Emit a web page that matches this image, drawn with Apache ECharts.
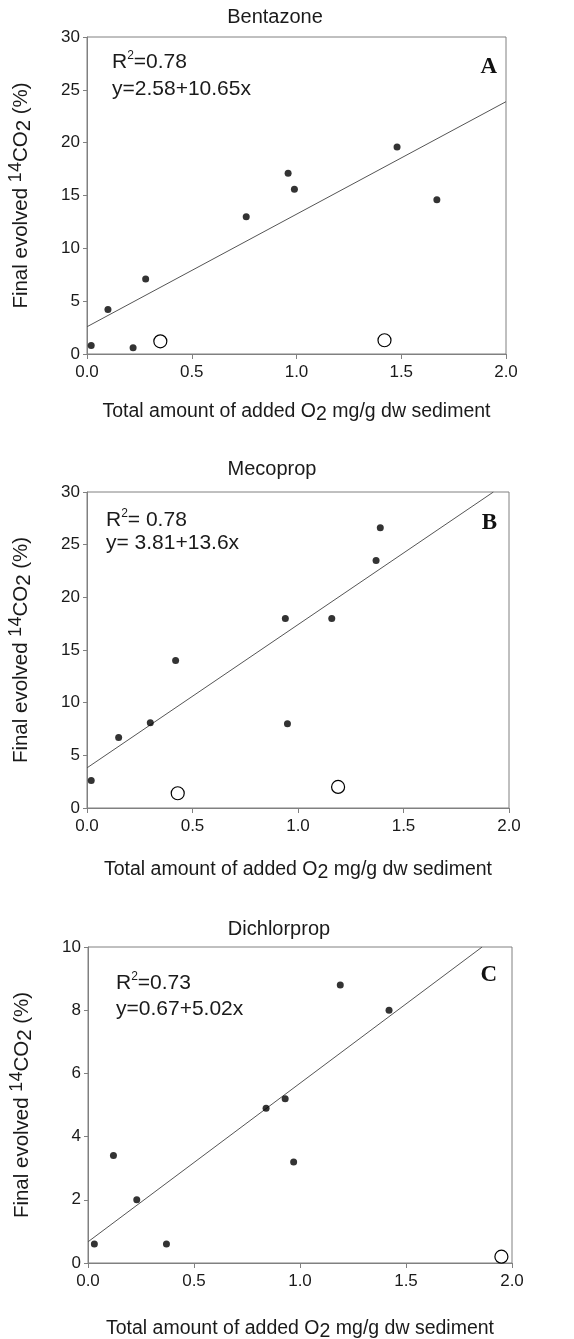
<!DOCTYPE html>
<html><head><meta charset="utf-8">
<script src="https://cdn.jsdelivr.net/npm/echarts@6/dist/echarts.min.js"></script>
<style>html,body{margin:0;padding:0;background:#fff}#c{width:574px;height:1339px}</style>
</head><body><div id="c"></div>
<script>
// ---- data ----
const titles = ['Bentazone', 'Mecoprop', 'Dichlorprop'];
const panelLetters = ['A', 'B', 'C'];
const r2Values = ['0.78', ' 0.78', '0.73'];
const equations = ['y=2.58+10.65x', 'y= 3.81+13.6x', 'y=0.67+5.02x'];
const xMin = 0, xMax = 2.0, xInterval = 0.5;
const yMaxes = [30, 30, 10];
const yIntervals = [5, 5, 2];

const filledA = [[0.02, 0.8], [0.10, 4.2], [0.22, 0.6], [0.28, 7.1], [0.76, 13.0], [0.96, 17.1], [0.99, 15.6], [1.48, 19.6], [1.67, 14.6]];
const openA = [[0.35, 1.2], [1.42, 1.3]];
const lineA = [[0, 2.58], [2.0, 23.88]];

const filledB = [[0.02, 2.6], [0.15, 6.7], [0.30, 8.1], [0.42, 14.0], [0.94, 18.0], [0.95, 8.0], [1.16, 18.0], [1.37, 23.5], [1.39, 26.6]];
const openB = [[0.43, 1.4], [1.19, 2.0]];
const lineB = [[0, 3.81], [1.926, 30.0]];

const filledC = [[0.03, 0.6], [0.12, 3.4], [0.23, 2.0], [0.37, 0.6], [0.84, 4.9], [0.93, 5.2], [0.97, 3.2], [1.19, 8.8], [1.42, 8.0]];
const openC = [[1.95, 0.2]];
const lineC = [[0, 0.67], [1.859, 10.0]];

const filledSets = [filledA, filledB, filledC];
const openSets = [openA, openB, openC];
const lineSets = [lineA, lineB, lineC];

// ---- layout / style ----
const FONT = "'Liberation Sans', Arial, sans-serif";
const SERIF = "'Liberation Serif', 'Times New Roman', serif";
const TXT = '#1a1a1a';
const AX = '#808080';
const grids = [
  { left: 87, top: 37, width: 419, height: 317 },
  { left: 87, top: 492, width: 422, height: 316 },
  { left: 88, top: 947, width: 424, height: 316 }
];
const xNameGaps = [45, 49, 53];
const titlePos = [[275, 17], [272, 469], [279, 929]];
const r2Pos = [[112, 62], [106, 520], [116, 983]];
const eqPos = [[112, 89], [106, 543], [116, 1009]];
const letterPos = [[497, 67], [497, 523], [497, 975]];

const nameRich = {
  n: { fontSize: 19.5, fontFamily: FONT, color: TXT, lineHeight: 26 },
  sub: { fontSize: 19.5, fontFamily: FONT, color: TXT, verticalAlign: 'bottom', lineHeight: 19 }
};
const yNameRich = {
  n: { fontSize: 20.5, fontFamily: FONT, color: TXT, lineHeight: 28 },
  sup: { fontSize: 18, fontFamily: FONT, color: TXT, verticalAlign: 'top', lineHeight: 17 },
  sub: { fontSize: 20.5, fontFamily: FONT, color: TXT, verticalAlign: 'bottom', lineHeight: 20 }
};

const xAxes = [], yAxes = [], series = [], graphics = [];
for (let i = 0; i < 3; i++) {
  xAxes.push({
    type: 'value', gridIndex: i, min: xMin, max: xMax, interval: xInterval,
    axisLine: { show: true, onZero: false, lineStyle: { color: AX, width: 1 } },
    axisTick: { show: true, inside: false, length: 5, lineStyle: { color: AX } },
    axisLabel: { fontSize: 17, fontFamily: FONT, color: TXT, margin: 10, formatter: v => v.toFixed(1) },
    splitLine: { show: false },
    name: '{n|Total amount of added O}{sub|2}{n| mg/g dw sediment}',
    nameLocation: 'middle', nameGap: xNameGaps[i],
    nameTextStyle: { rich: nameRich }
  });
  yAxes.push({
    type: 'value', gridIndex: i, min: 0, max: yMaxes[i], interval: yIntervals[i],
    axisLine: { show: true, onZero: false, lineStyle: { color: AX, width: 1 } },
    axisTick: { show: true, inside: false, length: 4, lineStyle: { color: AX } },
    axisLabel: { fontSize: 17, fontFamily: FONT, color: TXT, margin: 7 },
    splitLine: { show: false },
    name: '{n|Final evolved }{sup|14}{n|CO}{sub|2}{n| (%)}',
    nameLocation: 'middle', nameGap: 52, nameRotate: 90,
    nameTextStyle: { rich: yNameRich }
  });
  series.push({
    type: 'line', xAxisIndex: i, yAxisIndex: i, data: lineSets[i],
    symbol: 'none', lineStyle: { color: '#555', width: 1 }, silent: true, z: 1
  });
  series.push({
    type: 'scatter', xAxisIndex: i, yAxisIndex: i, data: filledSets[i],
    symbol: 'circle', symbolSize: 7, itemStyle: { color: '#000' }, z: 3
  });
  series.push({
    type: 'scatter', xAxisIndex: i, yAxisIndex: i, data: openSets[i],
    symbol: 'circle', symbolSize: 13, itemStyle: { color: '#fff', borderColor: '#000', borderWidth: 1.2, opacity: 1 }, z: 3
  });
  graphics.push({
    type: 'text', x: titlePos[i][0], y: titlePos[i][1],
    style: { text: titles[i], fontSize: 20, fontFamily: FONT, fill: TXT, align: 'center', verticalAlign: 'middle' }
  });
  graphics.push({
    type: 'text', x: r2Pos[i][0], y: r2Pos[i][1],
    style: {
      text: '{r|R}{s|2}{r|=' + r2Values[i] + '}', align: 'left', verticalAlign: 'middle',
      rich: {
        r: { fontSize: 21, fontFamily: FONT, fill: TXT, lineHeight: 24 },
        s: { fontSize: 12, fontFamily: FONT, fill: TXT, verticalAlign: 'top', lineHeight: 12 }
      }
    }
  });
  graphics.push({
    type: 'text', x: eqPos[i][0], y: eqPos[i][1],
    style: { text: equations[i], fontSize: 21, fontFamily: FONT, fill: TXT, align: 'left', verticalAlign: 'middle' }
  });
  graphics.push({
    type: 'text', x: letterPos[i][0], y: letterPos[i][1],
    style: { text: panelLetters[i], fontSize: 23, fontWeight: 'bold', fontFamily: SERIF, fill: '#111', align: 'right', verticalAlign: 'middle' }
  });
}

const chart = echarts.init(document.getElementById('c'), null, { renderer: 'canvas' });
chart.setOption({
  animation: false,
  backgroundColor: '#fff',
  grid: grids.map(g => Object.assign({
    show: true, borderColor: AX, borderWidth: 1, backgroundColor: 'transparent',
    containLabel: false, outerBoundsMode: 'none'
  }, g)),
  xAxis: xAxes,
  yAxis: yAxes,
  series: series,
  graphic: graphics
});
</script></body></html>
